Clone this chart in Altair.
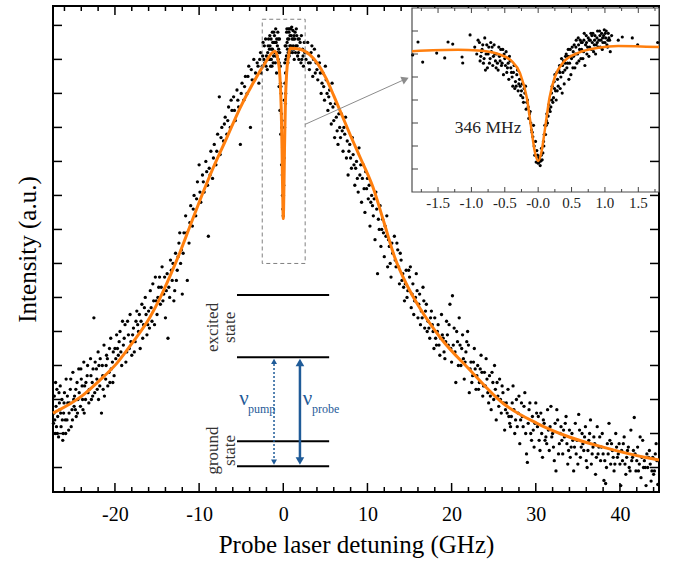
import altair as alt
import pandas as pd

FONT = "Liberation Serif, Times New Roman, Times, DejaVu Serif, serif"
ORANGE = "#ff7f0e"
BLUE = "#1f5b98"
W, H = 606, 486

# ---------------- main spectrum (GHz, a.u.) ----------------
left_wing = [(-27.3, 2.3), (-27.25, 2.6), (-27.2, 3.1), (-27.1, 2.0), (-27.0, 2.8), (-26.95, 2.2), (-26.9, 3.3),
             (-26.8, 2.5), (-26.7, 1.9), (-26.6, 2.9), (-26.55, 2.7), (-26.5, 3.4), (-26.4, 2.2), (-26.3, 3.0),
             (-26.2, 1.8), (-26.15, 2.0), (-26.1, 2.6), (-26.0, 3.2), (-25.9, 2.4), (-25.8, 3.6), (-25.7, 2.4),
             (-25.6, 2.9), (-25.5, 2.1), (-25.4, 2.9), (-25.3, 3.3), (-25.2, 2.2), (-25.1, 2.7), (-25.0, 3.8),
             (-24.9, 3.0), (-24.8, 3.1), (-24.7, 2.7), (-24.6, 2.5), (-24.5, 3.5), (-24.4, 3.0), (-24.3, 3.9),
             (-24.1, 2.8), (-24.0, 3.6), (-23.9, 3.4), (-23.8, 2.7), (-23.7, 4.1), (-23.6, 3.4), (-23.5, 3.0),
             (-23.3, 3.7), (-23.2, 3.2), (-23.1, 2.9), (-22.9, 4.2), (-22.8, 3.0), (-22.7, 3.5), (-22.6, 3.9),
             (-22.5, 5.4), (-22.4, 3.2), (-22.2, 3.9), (-22.1, 3.3), (-22.0, 4.4), (-21.9, 4.0), (-21.8, 3.4),
             (-21.6, 2.6), (-21.5, 4.0), (-21.4, 3.3), (-21.3, 4.6), (-21.1, 3.6), (-21.0, 4.3), (-20.9, 4.2),
             (-20.7, 3.8), (-20.6, 3.5), (-20.5, 4.8), (-20.3, 4.1), (-20.2, 4.4), (-20.1, 3.7), (-20.0, 4.5)]
left_wing_b = [(-27.15, 2.4), (-27.05, 3.5), (-26.85, 2.0), (-26.65, 3.2), (-26.45, 2.6), (-26.25, 2.4),
               (-26.05, 2.9), (-25.85, 2.0), (-25.65, 3.1), (-25.45, 2.6), (-25.25, 3.6), (-25.05, 2.4),
               (-24.85, 2.8), (-24.65, 3.3), (-24.45, 2.6), (-24.25, 3.2), (-24.05, 3.9), (-23.85, 3.0),
               (-23.65, 2.6), (-23.45, 3.5), (-23.25, 4.0), (-23.05, 3.3), (-22.85, 3.7), (-22.65, 3.1),
               (-22.35, 4.1), (-22.15, 3.6), (-21.95, 3.0), (-21.75, 4.2), (-21.45, 3.7), (-21.25, 3.1),
               (-21.05, 4.0), (-20.85, 3.4), (-20.65, 4.5), (-20.45, 3.9), (-20.25, 3.5)]
rise = [(-19.9, 4.2), (-19.8, 4.9), (-19.6, 4.3), (-19.5, 4.7), (-19.4, 5.0), (-19.2, 4.0), (-19.1, 5.3),
        (-19.0, 4.6), (-18.8, 5.2), (-18.7, 4.1), (-18.6, 4.4), (-18.4, 4.9), (-18.3, 4.5), (-18.2, 5.5),
        (-18.0, 4.3), (-17.9, 4.9), (-17.8, 5.1), (-17.6, 4.7), (-17.5, 5.3), (-17.4, 5.6), (-17.2, 5.0),
        (-17.1, 5.5), (-17.0, 4.5), (-16.8, 5.8), (-16.7, 4.8), (-16.6, 5.2), (-16.4, 6.0), (-16.3, 5.5),
        (-16.2, 4.9), (-16.0, 5.6), (-15.9, 5.1), (-15.8, 6.2), (-15.6, 5.3), (-15.5, 6.4), (-15.4, 5.9),
        (-15.2, 6.6), (-15.1, 5.9), (-15.0, 5.5), (-14.8, 6.3), (-14.7, 6.6), (-14.6, 5.8), (-14.4, 6.9),
        (-14.3, 5.9), (-14.2, 6.1), (-14.0, 5.4), (-13.9, 6.2), (-13.8, 6.7), (-13.7, 4.8), (-13.6, 6.3),
        (-13.4, 7.1), (-13.3, 6.8), (-13.2, 6.5), (-13.0, 5.9), (-12.9, 6.2), (-12.8, 7.3), (-12.6, 6.8),
        (-12.5, 7.2), (-12.4, 7.6), (-12.2, 7.0), (-12.0, 6.1)]
rise_b = [(-19.7, 4.5), (-19.3, 4.4), (-18.9, 4.8), (-18.5, 5.3), (-18.1, 4.7), (-17.7, 4.4), (-17.3, 5.2),
          (-16.9, 5.3), (-16.5, 5.7), (-16.1, 5.2), (-15.7, 5.7), (-15.3, 5.2), (-14.9, 6.0), (-14.5, 6.3),
          (-14.1, 6.6), (-13.5, 6.0), (-13.1, 7.0), (-12.7, 6.5), (-12.3, 7.9), (-12.1, 7.4)]
climb = [(-11.8, 7.9), (-11.6, 8.4), (-11.4, 6.5), (-11.2, 7.6), (-11.0, 8.7), (-10.8, 8.1), (-10.6, 9.0),
         (-10.4, 8.4), (-10.2, 9.4), (-10.0, 9.9), (-9.8, 8.8), (-9.6, 9.6), (-9.4, 9.1), (-9.2, 10.0),
         (-9.0, 9.3), (-8.9, 7.8), (-8.8, 9.8), (-8.6, 10.3), (-8.4, 9.5), (-8.2, 10.5), (-8.0, 9.9),
         (-7.8, 10.8), (-7.6, 11.9), (-7.5, 10.2), (-7.3, 11.0), (-7.1, 10.6), (-6.9, 11.3), (-6.7, 10.8),
         (-6.5, 11.6), (-6.3, 11.0), (-6.1, 11.5), (-5.9, 11.9), (-5.7, 11.2), (-5.5, 12.1), (-5.3, 11.6),
         (-5.1, 10.5), (-4.9, 12.3), (-4.7, 11.8), (-4.5, 12.5), (-4.3, 12.0), (-4.1, 12.8), (-3.9, 11.0),
         (-3.7, 12.4), (-3.5, 13.0), (-3.3, 12.6), (-3.1, 12.9), (-2.9, 12.3)]
climb_b = [(-11.9, 7.3), (-11.5, 7.9), (-11.1, 8.2), (-10.7, 8.6), (-10.3, 8.9), (-9.9, 9.1), (-9.5, 9.4),
           (-9.1, 9.7), (-8.7, 9.6), (-8.3, 10.1), (-7.9, 10.3), (-7.4, 10.7), (-7.0, 11.1), (-6.6, 11.2),
           (-6.2, 11.8), (-5.8, 11.5), (-5.4, 11.8), (-5.0, 12.0), (-4.6, 12.2), (-4.2, 12.5), (-3.8, 12.7),
           (-3.4, 12.4), (-3.0, 12.8), (-2.8, 13.0), (-2.6, 12.6)]
peak = [(-2.7, 13.2), (-2.5, 12.8), (-2.4, 13.5), (-2.3, 13.0), (-2.2, 12.9), (-2.1, 13.6), (-2.0, 13.1),
        (-1.9, 12.7), (-1.8, 13.4), (-1.7, 13.0), (-1.65, 13.3), (-1.6, 13.7), (-1.55, 13.0), (-1.5, 12.8),
        (-1.45, 13.6), (-1.4, 13.3), (-1.35, 12.8), (-1.3, 13.8), (-1.25, 13.5), (-1.2, 12.9), (-1.15, 13.1),
        (-1.1, 13.5), (-1.05, 13.7), (-1.0, 13.2), (-0.95, 12.9), (-0.9, 13.9), (-0.85, 13.5), (-0.8, 12.6),
        (-0.75, 13.1), (-0.7, 13.4), (-0.65, 13.8), (-0.6, 13.0), (-0.55, 13.3), (-0.5, 12.2), (-0.45, 13.6),
        (-0.4, 11.5), (-0.35, 12.8), (-0.3, 10.8), (-0.28, 12.2), (-0.25, 12.0), (-0.2, 9.9), (-0.18, 11.0),
        (-0.15, 11.2), (-0.12, 9.6), (-0.1, 9.0), (-0.08, 10.4), (-0.05, 8.6), (0.0, 8.4), (0.02, 9.0),
        (0.05, 9.3), (0.07, 10.6), (0.1, 10.1), (0.12, 11.8), (0.15, 11.0), (0.18, 12.9), (0.2, 12.3),
        (0.22, 13.4), (0.25, 11.7), (0.28, 12.0), (0.3, 13.0), (0.35, 12.6), (0.4, 13.8), (0.45, 13.5),
        (0.5, 13.3), (0.55, 12.9), (0.6, 13.9), (0.65, 13.6), (0.7, 13.1), (0.75, 13.9), (0.8, 13.7),
        (0.85, 13.2), (0.9, 13.4), (0.95, 13.7), (1.0, 13.95), (1.1, 13.2), (1.15, 13.85), (1.2, 13.6),
        (1.25, 13.3), (1.3, 13.0), (1.35, 13.6), (1.4, 13.8), (1.5, 13.4), (1.6, 13.7), (1.7, 13.1),
        (1.8, 13.2), (1.9, 13.6), (2.0, 13.5), (2.1, 12.9), (2.2, 13.0), (2.3, 13.3), (2.4, 12.8), (2.5, 13.5)]
peak_b = [(-2.45, 13.1), (-2.25, 13.4), (-2.05, 12.8), (-1.85, 13.2), (-1.75, 13.6), (-1.58, 13.4),
          (-1.42, 13.0), (-1.28, 13.3), (-1.12, 13.8), (-0.98, 13.5), (-0.88, 13.1), (-0.78, 13.6),
          (-0.68, 13.2), (-0.58, 13.6), (-0.48, 12.9), (-0.42, 13.2), (-0.33, 12.3), (-0.22, 11.4),
          (0.27, 12.6), (0.33, 13.4), (0.38, 13.1), (0.43, 13.9), (0.52, 13.6), (0.58, 13.2), (0.68, 13.8),
          (0.78, 13.4), (0.88, 13.9), (0.98, 13.3), (1.05, 13.6), (1.18, 13.4), (1.28, 13.7), (1.45, 13.2),
          (1.55, 13.9), (1.65, 13.4), (1.75, 13.6), (1.85, 13.0), (1.95, 13.3), (2.15, 13.7), (2.35, 13.1),
          (2.55, 13.2)]
fall = [(2.7, 13.0), (2.9, 13.5), (3.0, 12.9), (3.1, 12.7), (3.3, 13.2), (3.4, 13.4), (3.5, 12.5),
        (3.7, 13.3), (3.8, 12.6), (3.9, 12.9), (4.1, 12.4), (4.2, 13.1), (4.3, 12.9), (4.5, 12.0),
        (4.6, 12.3), (4.7, 12.6), (4.9, 11.8), (5.0, 12.8), (5.1, 12.4), (5.3, 11.5), (5.4, 11.9),
        (5.5, 12.1), (5.7, 11.1), (5.8, 12.3), (5.9, 11.6), (6.1, 10.7), (6.2, 11.7), (6.3, 11.3),
        (6.5, 10.5), (6.6, 11.4), (6.7, 11.0), (6.9, 11.4), (7.0, 10.9), (7.1, 10.3), (7.3, 10.8),
        (7.4, 11.3), (7.5, 10.1), (7.7, 9.6), (7.8, 10.3), (7.9, 10.5), (8.1, 9.8), (8.2, 10.7),
        (8.3, 10.2), (8.5, 9.3), (8.6, 9.8), (8.7, 10.0), (8.9, 9.1), (9.0, 10.4), (9.1, 9.6), (9.3, 8.8),
        (9.4, 9.5), (9.5, 9.9), (9.7, 8.5), (9.8, 9.7), (9.9, 9.2), (10.1, 8.9), (10.2, 9.3), (10.3, 8.1),
        (10.5, 9.0), (10.6, 8.7), (10.7, 8.4), (10.9, 7.7), (11.0, 9.1), (11.1, 8.6), (11.2, 6.7),
        (11.4, 8.0), (11.5, 8.7), (11.6, 7.5), (11.8, 8.3), (11.9, 7.9), (12.0, 7.2), (12.2, 7.8),
        (12.3, 8.4), (12.4, 6.9), (12.6, 7.5), (12.7, 7.0), (12.8, 6.6), (13.0, 7.3)]
fall_b = [(2.8, 13.2), (3.2, 12.9), (3.6, 13.0), (4.0, 12.7), (4.4, 12.6), (4.8, 12.2), (5.2, 12.0),
          (5.6, 11.7), (6.0, 11.2), (6.4, 10.9), (6.8, 10.7), (7.2, 11.0), (7.6, 10.6), (8.0, 10.1),
          (8.4, 9.9), (8.8, 9.5), (9.2, 9.9), (9.6, 9.2), (10.0, 9.5), (10.4, 8.8), (10.8, 8.9), (11.3, 8.3),
          (11.7, 8.0), (12.1, 8.1), (12.5, 7.7), (12.9, 7.6)]
slope = [(13.2, 7.8), (13.4, 6.9), (13.5, 7.6), (13.6, 7.4), (13.8, 6.4), (13.9, 7.3), (14.0, 7.1),
         (14.2, 6.7), (14.3, 6.3), (14.4, 5.9), (14.6, 6.8), (14.7, 6.0), (14.8, 6.2), (15.0, 6.6),
         (15.1, 6.9), (15.2, 5.7), (15.4, 6.4), (15.5, 5.5), (15.6, 5.9), (15.8, 6.7), (15.9, 6.2),
         (16.0, 5.4), (16.2, 6.1), (16.3, 5.2), (16.4, 5.6), (16.6, 6.3), (16.7, 5.9), (16.8, 5.1),
         (17.0, 5.8), (17.1, 5.0), (17.2, 5.3), (17.4, 4.8), (17.5, 5.4), (17.6, 5.6), (17.8, 5.0),
         (17.9, 4.5), (18.0, 5.4), (18.2, 4.6), (18.3, 5.0), (18.4, 5.2), (18.6, 4.3), (18.7, 4.8),
         (18.8, 5.5), (19.0, 4.8), (19.1, 4.4), (19.2, 4.2), (19.4, 5.3), (19.5, 4.9), (19.6, 4.6),
         (19.8, 5.8), (19.9, 4.5), (20.0, 4.1), (20.1, 6.05), (20.3, 5.1), (20.4, 4.4), (20.5, 3.5),
         (20.7, 4.7), (20.8, 4.0), (20.9, 5.4), (21.1, 4.0), (21.2, 4.5), (21.3, 4.9), (21.5, 3.6),
         (21.6, 4.1), (21.7, 4.4), (21.9, 5.0), (22.0, 4.6), (22.1, 3.2), (22.3, 4.1), (22.4, 3.5),
         (22.5, 3.7), (22.7, 4.5), (22.8, 3.9), (22.9, 3.3), (23.1, 4.0), (23.2, 3.3), (23.3, 3.5),
         (23.5, 4.3), (23.6, 3.8), (23.7, 3.1), (23.9, 3.8), (24.0, 3.4), (24.1, 4.2), (24.3, 3.2),
         (24.4, 2.9), (24.5, 3.7), (24.7, 2.7), (24.8, 3.8), (24.9, 3.5), (25.1, 4.0), (25.2, 3.3),
         (25.3, 2.4), (25.5, 3.1), (25.6, 2.8), (25.7, 3.6), (25.9, 2.6), (26.0, 3.4), (26.1, 3.2),
         (26.3, 2.1), (26.4, 2.7), (26.5, 2.9), (26.7, 3.3), (26.8, 2.5), (26.9, 2.3)]
slope_b = [(13.3, 7.1), (13.7, 6.9), (14.1, 6.5), (14.5, 6.4), (14.9, 6.8), (15.3, 6.1), (15.7, 6.0),
           (16.1, 5.8), (16.5, 5.4), (16.9, 5.6), (17.3, 5.1), (17.7, 5.2), (18.1, 4.8), (18.5, 4.6),
           (18.9, 4.9), (19.3, 4.7), (19.7, 5.2), (20.2, 4.6), (20.6, 5.0), (21.0, 4.6), (21.4, 4.2),
           (21.8, 4.7), (22.2, 3.9), (22.6, 4.1), (23.0, 3.7), (23.4, 3.9), (23.8, 3.4), (24.2, 3.6),
           (24.6, 3.1), (25.0, 3.0), (25.4, 3.5), (25.8, 3.0), (26.2, 2.9), (26.6, 2.6)]
tail = [(27.1, 2.5), (27.2, 2.9), (27.3, 3.4), (27.5, 2.0), (27.6, 2.4), (27.7, 3.0), (27.9, 2.6),
        (28.0, 3.1), (28.1, 1.7), (28.3, 2.9), (28.4, 2.5), (28.5, 2.2), (28.7, 3.2), (28.8, 2.0),
        (28.9, 1.4), (29.0, 1.15), (29.2, 2.7), (29.3, 2.9), (29.4, 2.0), (29.6, 2.5), (29.7, 2.1),
        (29.8, 1.6), (30.0, 2.9), (30.1, 2.6), (30.2, 2.2), (30.4, 1.8), (30.5, 1.5), (30.6, 2.6),
        (30.8, 1.3), (30.9, 2.4), (31.0, 2.3), (31.2, 1.9), (31.3, 1.7), (31.4, 2.7), (31.6, 1.5),
        (31.7, 2.2), (31.8, 2.8), (32.0, 2.0), (32.1, 1.6), (32.2, 1.2), (32.4, 0.9), (32.5, 2.7),
        (32.6, 2.4), (32.8, 1.7), (33.0, 2.2), (33.1, 1.8), (33.2, 1.4), (33.4, 1.9), (33.5, 2.3),
        (33.6, 2.5), (33.8, 1.1), (33.9, 1.5), (34.0, 2.1), (34.2, 1.6), (34.3, 2.0), (34.5, 0.9),
        (34.7, 2.3), (34.8, 1.4), (34.9, 1.8), (35.1, 2.56), (35.2, 2.1), (35.3, 1.3), (35.5, 2.0),
        (35.6, 1.7), (35.7, 1.5), (35.9, 2.2), (36.0, 1.2), (36.1, 1.0), (36.3, 1.8), (36.4, 2.0),
        (36.5, 2.4), (36.7, 1.4), (36.8, 1.6), (36.9, 1.9), (37.1, 0.8), (37.2, 1.3), (37.3, 2.2),
        (37.5, 1.6), (37.6, 1.9), (37.7, 1.2), (37.9, 2.0), (38.0, 1.4), (38.1, 0.62), (38.3, 0.53),
        (38.4, 1.0), (38.5, 1.7), (38.7, 2.3), (38.8, 1.8), (38.9, 1.1), (39.1, 1.5), (39.2, 1.3),
        (39.3, 0.9), (39.5, 2.0), (39.6, 1.6), (39.7, 1.3), (39.9, 1.7), (40.0, 1.1), (40.1, 0.47),
        (40.3, 1.2), (40.4, 1.7), (40.5, 1.9), (40.7, 0.8), (40.8, 1.3), (40.9, 1.5), (41.1, 1.0),
        (41.2, 0.9), (41.3, 2.1), (41.5, 1.3), (41.6, 1.5), (41.7, 2.47), (41.9, 0.9), (42.0, 1.2),
        (42.1, 1.6), (42.3, 1.1), (42.4, 1.9), (42.5, 0.7), (42.7, 1.8), (42.8, 1.0), (42.9, 1.2),
        (43.1, 0.47), (43.2, 1.4), (43.3, 1.0), (43.5, 1.5), (43.6, 1.1), (43.7, 0.6), (43.9, 1.3),
        (44.0, 0.8), (44.1, 0.9), (44.3, 1.7), (44.4, 1.2), (44.5, 0.5)]
tail_b = [(27.0, 2.2), (27.4, 2.7), (27.8, 2.2), (28.2, 2.4), (28.6, 2.8), (29.1, 2.3), (29.5, 1.8),
          (29.9, 2.3), (30.3, 2.5), (30.7, 2.0), (31.1, 1.8), (31.5, 2.1), (31.9, 1.9), (32.3, 2.3),
          (32.7, 1.4), (32.9, 2.0), (33.3, 2.1), (33.7, 1.7), (34.1, 1.3), (34.4, 1.8), (34.6, 1.6),
          (35.0, 1.1), (35.4, 1.6), (35.8, 1.9), (36.2, 1.5), (36.6, 1.1), (37.0, 1.7), (37.4, 1.4),
          (37.8, 1.6), (38.2, 1.2), (38.6, 1.4), (39.0, 1.7), (39.4, 1.1), (39.8, 1.4), (40.2, 1.5),
          (40.6, 1.1), (41.0, 1.6), (41.4, 1.2), (41.8, 1.4), (42.2, 0.9), (42.6, 1.3), (43.0, 1.0),
          (43.4, 1.3), (43.8, 0.9), (44.2, 1.4)]

fit_x = [-27.36, -27.12, -23.8, -21.78, -19.76, -17.86, -15.84, -14.65, -13.46, -12.27, -11.08, -9.9,
         -8.35, -6.69, -5.14, -3.6, -2.17, -1.3, -0.98, -0.6, -0.4, -0.25, -0.15, -0.08, 0.0, 0.08, 0.15,
         0.25, 0.4, 0.6, 0.8, 1.98, 3.17, 4.12, 5.07, 6.02, 6.97, 7.92, 9.11, 10.66, 11.96, 13.27, 14.7,
         16.24, 18.62, 22.2, 26.1, 30.14, 34.06, 37.98, 43.56, 44.64]
fit_y = [2.6, 2.63, 3.13, 3.57, 4.07, 4.69, 5.42, 5.98, 6.63, 7.33, 8.1, 8.86,
         9.8, 10.71, 11.57, 12.3, 12.89, 13.2, 13.24, 12.95, 12.5, 11.6, 10.4, 9.2, 8.32, 9.25, 10.45,
         11.7, 12.6, 13.05, 13.33, 13.3, 13.13, 12.86, 12.45, 11.92, 11.36, 10.8, 10.13, 9.24, 8.21, 7.16, 6.36,
         5.68, 4.83, 3.86, 2.89, 2.3, 1.89, 1.6, 1.27, 1.22]

# ---------------- inset (GHz, a.u.) ----------------
inset_left = [(-1.88, 5.96), (-1.80, 6.52), (-1.73, 5.65), (-1.52, 6.04), (-1.40, 5.83), (-1.35, 6.52),
              (-1.28, 6.43), (-1.14, 5.87), (-1.13, 5.61), (-1.02, 6.83), (-0.95, 6.30), (-0.92, 6.0),
              (-0.90, 6.6)]
inset_dip_left = [(-0.88, 6.5), (-0.87, 5.7), (-0.86, 5.9), (-0.84, 6.2), (-0.83, 6.4), (-0.82, 5.6),
                  (-0.80, 6.7), (-0.79, 5.3), (-0.78, 6.0), (-0.76, 5.4), (-0.75, 6.0), (-0.74, 6.3),
                  (-0.72, 5.8), (-0.71, 6.5), (-0.70, 6.1), (-0.68, 5.5), (-0.67, 5.9), (-0.66, 6.4),
                  (-0.64, 5.7), (-0.63, 5.4), (-0.62, 6.0), (-0.60, 5.3), (-0.59, 6.3), (-0.58, 5.9),
                  (-0.56, 6.2), (-0.55, 5.5), (-0.54, 5.6), (-0.52, 5.1), (-0.51, 6.0), (-0.50, 5.8),
                  (-0.48, 6.1), (-0.47, 5.2), (-0.46, 5.4), (-0.44, 4.9), (-0.43, 5.9), (-0.42, 5.7),
                  (-0.40, 5.2), (-0.39, 5.0), (-0.38, 4.6), (-0.36, 5.5), (-0.35, 4.5), (-0.34, 4.8),
                  (-0.32, 5.1), (-0.31, 5.3), (-0.30, 4.4), (-0.28, 4.9), (-0.27, 4.6), (-0.26, 4.2),
                  (-0.24, 4.7), (-0.23, 4.1), (-0.22, 3.9), (-0.20, 4.3), (-0.19, 4.6), (-0.18, 3.6),
                  (-0.16, 4.0), (-0.15, 3.7), (-0.14, 3.2), (-0.12, 3.5), (-0.11, 3.0), (-0.10, 2.7),
                  (-0.08, 2.4), (-0.07, 2.9), (-0.06, 2.0), (-0.05, 1.6), (-0.04, 2.2), (-0.03, 1.3),
                  (-0.02, 1.8), (-0.01, 1.6), (0.0, 1.25)]
inset_dip_left_b = [(-0.85, 6.1), (-0.81, 5.8), (-0.77, 6.4), (-0.73, 5.6), (-0.69, 6.3), (-0.65, 6.0),
                    (-0.61, 5.6), (-0.57, 5.7), (-0.53, 6.2), (-0.49, 5.5), (-0.45, 5.6), (-0.41, 5.4),
                    (-0.37, 5.2), (-0.33, 4.6), (-0.29, 4.7), (-0.25, 4.4), (-0.21, 4.5), (-0.17, 3.9),
                    (-0.13, 3.4), (-0.09, 2.6)]
inset_dip_right = [(0.01, 1.5), (0.02, 1.45), (0.03, 1.15), (0.04, 1.35), (0.05, 1.9), (0.06, 1.4),
                   (0.07, 1.7), (0.08, 2.2), (0.09, 2.5), (0.10, 2.9), (0.11, 2.5), (0.12, 2.9),
                   (0.13, 3.4), (0.14, 3.0), (0.15, 3.3), (0.16, 3.8), (0.17, 4.0), (0.18, 3.5),
                   (0.19, 3.7), (0.20, 4.3), (0.21, 4.6), (0.22, 3.9), (0.23, 4.1), (0.24, 4.8),
                   (0.25, 5.1), (0.26, 4.4), (0.27, 4.0), (0.28, 5.2), (0.29, 4.9), (0.30, 4.6),
                   (0.31, 5.3), (0.32, 5.5), (0.33, 4.5), (0.34, 5.0), (0.35, 5.8), (0.36, 4.3),
                   (0.37, 5.2), (0.38, 5.7), (0.39, 4.7), (0.40, 5.3), (0.41, 5.9), (0.42, 6.0),
                   (0.43, 5.4), (0.44, 5.6), (0.45, 6.2), (0.46, 4.9), (0.47, 5.6), (0.48, 6.2),
                   (0.49, 5.1), (0.50, 5.8), (0.51, 6.3), (0.52, 5.4), (0.53, 5.9), (0.54, 6.4),
                   (0.55, 5.4), (0.56, 6.0), (0.57, 6.6), (0.58, 5.6), (0.59, 6.0), (0.60, 6.7),
                   (0.61, 5.7), (0.62, 6.2), (0.63, 6.6), (0.64, 5.8), (0.65, 6.2), (0.66, 6.5),
                   (0.67, 5.8), (0.68, 6.1), (0.69, 6.9), (0.70, 5.5), (0.71, 6.4), (0.72, 6.8),
                   (0.73, 6.0), (0.74, 6.3), (0.75, 6.7), (0.76, 5.9), (0.77, 6.3), (0.78, 6.6),
                   (0.79, 6.9), (0.80, 6.2), (0.81, 6.5), (0.82, 6.9), (0.83, 6.1), (0.84, 6.4),
                   (0.85, 6.8), (0.86, 6.0), (0.87, 6.4), (0.88, 6.7), (0.89, 7.0), (0.90, 6.3),
                   (0.91, 6.6), (0.92, 7.0), (0.93, 6.3), (0.94, 6.6), (0.95, 6.9), (0.96, 6.2),
                   (0.97, 6.5), (0.98, 6.8), (0.99, 7.05), (1.00, 6.5), (1.01, 6.7), (1.02, 7.0),
                   (1.03, 6.4), (1.04, 6.3), (1.05, 6.9), (1.06, 6.7), (1.07, 6.6), (1.08, 6.1), (1.10, 6.8)]
inset_dip_right_b = [(0.015, 1.3), (0.045, 1.6), (0.085, 2.0), (0.125, 3.1), (0.165, 3.6), (0.205, 4.0),
                     (0.245, 4.5), (0.285, 4.4), (0.325, 5.2), (0.365, 5.5), (0.405, 5.6), (0.445, 5.9),
                     (0.485, 5.9), (0.525, 6.1), (0.565, 6.3), (0.605, 6.4), (0.645, 6.5), (0.685, 6.6),
                     (0.725, 6.5), (0.765, 6.6), (0.805, 6.8), (0.845, 6.6), (0.885, 6.5), (0.925, 6.8),
                     (0.965, 6.7), (1.005, 6.9), (1.045, 6.6)]
inset_right = [(1.20, 6.6), (1.26, 6.74), (1.41, 6.7), (1.49, 6.4), (1.79, 6.5)]

inset_fit_x = [-1.89, -1.2, -0.9, -0.6, -0.4, -0.27, -0.17, -0.1, -0.05, 0.0, 0.05, 0.1, 0.17, 0.25,
               0.38, 0.6, 0.9, 1.2, 1.81]
inset_fit_y = [6.12, 6.18, 6.15, 6.0, 5.7, 5.15, 4.1, 2.7, 1.75, 1.35, 1.75, 2.7, 4.1, 5.0,
               5.65, 6.05, 6.27, 6.35, 6.30]

# ---------------- ticks / labels ----------------
x_major = [-20, -10, 0, 10, 20, 30, 40]
x_minor = [-26, -24, -22, -18, -16, -14, -12, -8, -6, -4, -2, 2, 4, 6, 8, 12, 14, 16, 18,
           22, 24, 26, 28, 32, 34, 36, 38, 42, 44]
y_ticks = [1, 2, 3, 4, 5, 6, 7, 8, 9, 10, 11, 12, 13, 14]
inset_x_major = [-1.5, -1.0, -0.5, 0.0, 0.5, 1.0, 1.5]
inset_x_labels = ["-1.5", "-1.0", "-0.5", "-0.0", "0.5", "1.0", "1.5"]
inset_x_minor = [-1.75, -1.25, -0.75, -0.25, 0.25, 0.75, 1.25, 1.75]
inset_y_ticks = [1, 2, 3, 4, 5, 6, 7]

# energy-level sketch (drawn in data coordinates of the main plot)
level_y = [6.07, 4.24, 1.77, 1.04]
level_x = [-5.5, 5.45]
pump_x, probe_x = -1.1, 1.98

XS = alt.Scale(domain=[-27.36, 44.64], nice=False, zero=False)
YS = alt.Scale(domain=[0.28, 14.57], nice=False, zero=False)
IXS = alt.Scale(domain=[-1.89, 1.81], range=[359, 606], nice=False, zero=False)
IYS = alt.Scale(domain=[0, 8], range=[186, 2], nice=False, zero=False)

main_df = pd.DataFrame(left_wing + left_wing_b + rise + rise_b + climb + climb_b + peak + peak_b +
                       fall + fall_b + slope + slope_b + tail + tail_b, columns=["x", "y"])
fit_df = pd.DataFrame({"x": fit_x, "y": fit_y})
inset_df = pd.DataFrame(inset_left + inset_dip_left + inset_dip_left_b + inset_dip_right +
                        inset_dip_right_b + inset_right, columns=["x", "y"])
ifit_df = pd.DataFrame({"x": inset_fit_x, "y": inset_fit_y})


def nx(f="x"):
    return alt.X(f"{f}:Q", scale=XS, axis=None)


def ny(f="y"):
    return alt.Y(f"{f}:Q", scale=YS, axis=None)


def ix(f="x"):
    return alt.X(f"{f}:Q", scale=IXS, axis=None)


def iy(f="y"):
    return alt.Y(f"{f}:Q", scale=IYS, axis=None)


scatter = alt.Chart(main_df).mark_circle(size=11, color="black", opacity=1).encode(
    x=alt.X("x:Q", scale=XS, axis=alt.Axis(
        title="Probe laser detuning (GHz)", values=x_major, labelExpr="'' + datum.value",
        tickSize=0, domain=False, grid=False, labelFont=FONT, labelFontSize=20, labelColor="black",
        labelPadding=12, titleFont=FONT, titleFontSize=25, titleFontWeight="normal",
        titleColor="black", titlePadding=8)),
    y=alt.Y("y:Q", scale=YS, axis=alt.Axis(
        title="Intensity (a.u.)", labels=False, ticks=False, domain=False, grid=False,
        titleFont=FONT, titleFontSize=25, titleFontWeight="normal", titleColor="black",
        titlePadding=13)),
)
fit = alt.Chart(fit_df).mark_line(color=ORANGE, strokeWidth=3, interpolate="monotone").encode(
    x=nx(), y=ny())


def hticks(vals, scale, y0, y1, color="black", sw=1.5):
    return alt.Chart(pd.DataFrame({"t": vals})).mark_rule(color=color, strokeWidth=sw).encode(
        x=alt.X("t:Q", scale=scale, axis=None), y=alt.value(y0), y2=alt.value(y1))


def vticks(vals, scale, x0, x1, color="black", sw=1.5):
    return alt.Chart(pd.DataFrame({"t": vals})).mark_rule(color=color, strokeWidth=sw).encode(
        y=alt.Y("t:Q", scale=scale, axis=None), x=alt.value(x0), x2=alt.value(x1))


main_ticks = [
    hticks(x_major, XS, H, H - 9), hticks(x_minor, XS, H, H - 5),
    hticks(x_major, XS, 0, 9), hticks(x_minor, XS, 0, 5),
    vticks(y_ticks, YS, 0, 9),
]

box = alt.Chart(pd.DataFrame({"x1": [-2.5], "x2": [2.6], "y1": [7.0], "y2": [14.18]})).mark_rect(
    fillOpacity=0, stroke="#808080", strokeDash=[4, 3], strokeWidth=1).encode(
    x=nx("x1"), x2="x2", y=ny("y1"), y2="y2")

zoom_line = alt.Chart(pd.DataFrame({"x1": [2.6], "y1": [11.09], "x2": [14.5], "y2": [12.42]})).mark_rule(
    color="#8c8c8c", strokeWidth=1).encode(x=nx("x1"), x2="x2", y=ny("y1"), y2="y2")
zoom_head = alt.Chart(pd.DataFrame({"x": [14.5], "y": [12.42]})).mark_point(
    shape="triangle-right", filled=True, size=70, angle=336, color="#8c8c8c", opacity=1).encode(
    x=nx(), y=ny())

levels = alt.Chart(pd.DataFrame({"y": level_y, "x1": [level_x[0]] * 4, "x2": [level_x[1]] * 4})).mark_rule(
    color="black", strokeWidth=2).encode(x=nx("x1"), x2="x2", y=ny())

pump = alt.Chart(pd.DataFrame({"x": [pump_x], "y1": [level_y[3] + 0.12], "y2": [level_y[1] - 0.12]})).mark_rule(
    color=BLUE, strokeWidth=1.5, strokeDash=[2, 2]).encode(x=nx(), y=ny("y1"), y2="y2")
probe = alt.Chart(pd.DataFrame({"x": [probe_x], "y1": [level_y[3] + 0.15], "y2": [level_y[1] - 0.15]})).mark_rule(
    color=BLUE, strokeWidth=2.5).encode(x=nx(), y=ny("y1"), y2="y2")
heads_up = alt.Chart(pd.DataFrame({"x": [pump_x, probe_x], "y": [level_y[1] - 0.12, level_y[1] - 0.15],
                                   "s": [35, 75]})).mark_point(
    shape="triangle-up", filled=True, color=BLUE, opacity=1).encode(
    x=nx(), y=ny(), size=alt.Size("s:Q", scale=None, legend=None))
heads_down = alt.Chart(pd.DataFrame({"x": [pump_x, probe_x], "y": [level_y[3] + 0.12, level_y[3] + 0.15],
                                     "s": [35, 75]})).mark_point(
    shape="triangle-down", filled=True, color=BLUE, opacity=1).encode(
    x=nx(), y=ny(), size=alt.Size("s:Q", scale=None, legend=None))

state_text = alt.Chart(pd.DataFrame({
    "x": [-8.35, -6.35, -8.35, -6.35], "y": [5.12, 5.12, 1.5, 1.5],
    "t": ["excited", "state", "ground", "state"]})).mark_text(
    angle=270, font=FONT, fontSize=17, color="#333333", align="center", baseline="middle").encode(
    x=nx(), y=ny(), text="t:N")

nu_text = alt.Chart(pd.DataFrame({"x": [-4.67, 2.87], "y": [3.0, 3.0], "t": ["ν", "ν"]})).mark_text(
    font=FONT, fontSize=21, color=BLUE, align="center", baseline="middle").encode(
    x=nx(), y=ny(), text="t:N")
sub_text = alt.Chart(pd.DataFrame({"x": [-4.2, 3.4], "y": [2.72, 2.72], "t": ["pump", "probe"]})).mark_text(
    font=FONT, fontSize=12, color=BLUE, align="left", baseline="middle").encode(
    x=nx(), y=ny(), text="t:N")

# ---------------- inset layers ----------------
inset_bg = alt.Chart(pd.DataFrame({"x1": [-1.89], "x2": [1.81], "y1": [0], "y2": [8]})).mark_rect(
    fill="white", stroke="#4d4d4d", strokeWidth=1.2).encode(x=ix("x1"), x2="x2", y=iy("y1"), y2="y2")
inset_pts = alt.Chart(inset_df).mark_circle(size=10, color="black", opacity=1).encode(x=ix(), y=iy())
inset_fit = alt.Chart(ifit_df).mark_line(color=ORANGE, strokeWidth=2.5, interpolate="monotone").encode(
    x=ix(), y=iy())
inset_ticks = [
    hticks(inset_x_major, IXS, 186, 181, "#444444", 1), hticks(inset_x_minor, IXS, 186, 183, "#444444", 1),
    hticks(inset_x_major, IXS, 2, 7, "#444444", 1), hticks(inset_x_minor, IXS, 2, 5, "#444444", 1),
    vticks(inset_y_ticks, IYS, 359, 365, "#444444", 1),
]
inset_labels = alt.Chart(pd.DataFrame({"x": inset_x_major, "y": [0] * 7, "t": inset_x_labels})).mark_text(
    font=FONT, fontSize=15, color="#222222", baseline="top", dy=4).encode(x=ix(), y=iy(), text="t:N")
inset_note = alt.Chart(pd.DataFrame({"x": [-0.75], "y": [2.78], "t": ["346 MHz"]})).mark_text(
    font=FONT, fontSize=17.5, color="#222222", align="center", baseline="middle").encode(
    x=ix(), y=iy(), text="t:N")

right_ticks = vticks(y_ticks, YS, W, W - 9)

layers = ([scatter, fit] + main_ticks + [box, zoom_line, zoom_head, levels, pump, probe, heads_up,
                                        heads_down, state_text, nu_text, sub_text,
                                        inset_bg, inset_pts, inset_fit] + inset_ticks +
          [inset_labels, inset_note, right_ticks])

chart = alt.layer(*layers).resolve_scale(x="independent", y="independent").properties(
    width=W, height=H,
    autosize=alt.AutoSizeParams(type="none"),
    padding={"left": 53, "top": 6, "right": 14, "bottom": 75},
).configure_view(stroke="black", strokeWidth=2)

chart.save("out.html", embed_options={"renderer": "svg", "actions": False})
